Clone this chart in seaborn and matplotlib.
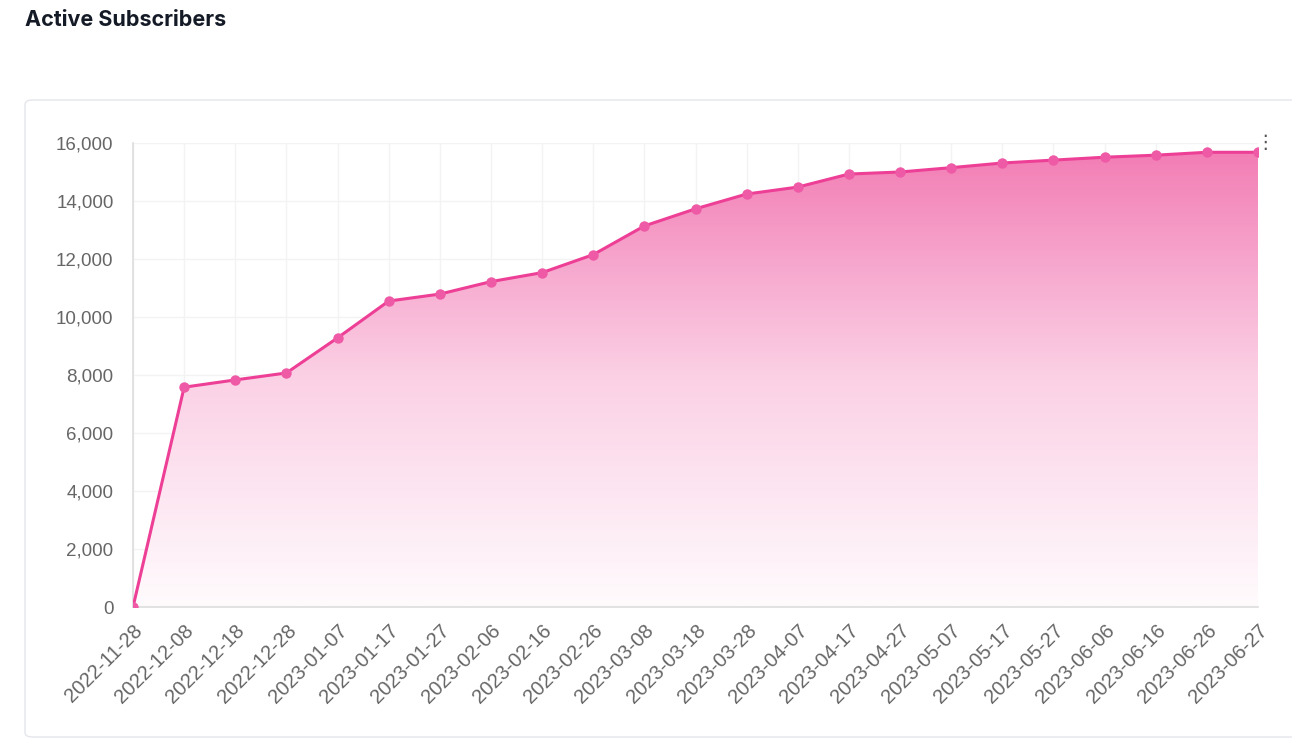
import numpy as np
import pandas as pd
import seaborn as sns
import matplotlib.pyplot as plt
from matplotlib.colors import LinearSegmentedColormap
from matplotlib.patches import FancyBboxPatch

dates = ['2022-11-28', '2022-12-08', '2022-12-18', '2022-12-28', '2023-01-07',
         '2023-01-17', '2023-01-27', '2023-02-06', '2023-02-16', '2023-02-26',
         '2023-03-08', '2023-03-18', '2023-03-28', '2023-04-07', '2023-04-17',
         '2023-04-27', '2023-05-07', '2023-05-17', '2023-05-27', '2023-06-06',
         '2023-06-16', '2023-06-26', '2023-06-27']
subscribers = [0, 7580, 7830, 8070, 9280, 10550, 10790, 11220, 11530, 12150,
               13140, 13730, 14240, 14480, 14930, 15000, 15150, 15310, 15410,
               15510, 15580, 15680, 15680]
y_ticks = [0, 2000, 4000, 6000, 8000, 10000, 12000, 14000, 16000]

PINK = '#ee3f96'

sns.set_theme(style='white')
plt.rcParams['font.family'] = ['Liberation Sans', 'DejaVu Sans']

df = pd.DataFrame({'date': dates, 'subs': subscribers})
df['pos'] = np.arange(len(df))

fig = plt.figure(figsize=(12.92, 7.39), dpi=100)
W, H = 1292, 739

# card outline round the chart
card = FancyBboxPatch((25 / W, 2 / H), 1.05, (737 - 100) / H,
                      boxstyle='round,pad=0,rounding_size=0.006',
                      transform=fig.transFigure, facecolor='none',
                      edgecolor='#e4e6ea', linewidth=1.0, zorder=-1)
fig.patches.append(card)

fig.text(25 / W, 1 - 20 / H, 'Active Subscribers', fontsize=15.5, fontweight='bold',
         color='#151b26', va='center', ha='left', family=['Inter', 'DejaVu Sans'])

ax = fig.add_axes([133 / W, 1 - 607 / H, (1258 - 133) / W, (607 - 143) / H])
ax.set_facecolor('none')

# gradient area under the line
cmap = LinearSegmentedColormap.from_list('pinkfade', ['#fffbfd', '#fbd0e5', '#f27ab3'])
grad = np.linspace(0, 1, 256).reshape(-1, 1)
img = ax.imshow(grad, extent=[0, len(df) - 1, 0, 16000], origin='lower',
                aspect='auto', cmap=cmap, zorder=1)
poly = ax.fill_between(df['pos'], df['subs'], 0, facecolor='none', edgecolor='none')
img.set_clip_path(poly.get_paths()[0], transform=ax.transData)

sns.lineplot(data=df, x='pos', y='subs', ax=ax, color=PINK, linewidth=2.2,
             marker='o', markersize=7.5, markeredgewidth=0, sort=False, zorder=3)
ax.lines[0].set_markerfacecolor('#ee5aa6')

ax.set_xlim(0, len(df) - 1)
ax.set_ylim(0, 16000)
ax.set_xticks(df['pos'])
ax.set_xticklabels(dates, rotation=45, ha='right', rotation_mode='anchor',
                   fontsize=14.5, color='#666666')
ax.set_yticks(y_ticks)
ax.set_yticklabels([f'{v:,}' for v in y_ticks], fontsize=13.5, color='#666666')
ax.tick_params(axis='x', length=6, color='#f0f0f0', pad=4)
ax.tick_params(axis='y', length=10, color='#f2f2f2', pad=4)
ax.grid(True, color='#f3f3f3', linewidth=1)
ax.set_axisbelow(True)
ax.set_xlabel('')
ax.set_ylabel('')
for side in ['top', 'right']:
    ax.spines[side].set_visible(False)
for side in ['left', 'bottom']:
    ax.spines[side].set_color('#dddddd')
    ax.spines[side].set_linewidth(1.2)

fig.text(1265 / W, 1 - 142 / H, '\u22ee', fontsize=14, color='#555555',
         ha='center', va='center', family=['DejaVu Sans'])

fig.savefig('out.png', dpi=100)
